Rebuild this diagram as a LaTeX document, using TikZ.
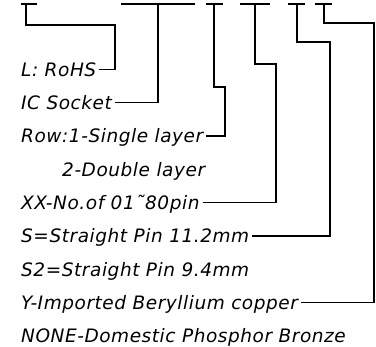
\documentclass[tikz,border=0pt]{standalone}
\usepackage{fontspec}
\setmainfont{DejaVu Sans}
\newfontfamily\cadfont{DejaVu Sans Oblique}[LetterSpace=3]
\begin{document}
\begin{tikzpicture}[x=1pt,y=-1pt,
  lbl/.style={anchor=west,inner xsep=3pt,inner ysep=0pt,text height=13.5pt,text depth=0pt,font=\cadfont\fontsize{18.5}{22}\selectfont},
  wire/.style={line width=1.2pt,line join=miter}]
\useasboundingbox (0,0) rectangle (376,347);
% top bars
\coordinate (b1l) at (21,4);  \coordinate (b1r) at (37,4);
\coordinate (b2l) at (121,4); \coordinate (b2r) at (195,4);
\coordinate (b3l) at (206,4); \coordinate (b3r) at (223,4);
\coordinate (b4l) at (240,4); \coordinate (b4r) at (270,4);
\coordinate (b5l) at (288,4); \coordinate (b5r) at (305,4);
\coordinate (b6l) at (315,4); \coordinate (b6r) at (332,4);
\foreach \i in {1,...,6} {\draw[wire] (b\i l) -- (b\i r);}
% stems and bends
\coordinate (s1) at (26,4);  \coordinate (k1) at (115,25);
\coordinate (s2) at (158,4);
\coordinate (s3) at (214,4); \coordinate (k3) at (225,87);
\coordinate (s4) at (255,4); \coordinate (k4) at (276,64);
\coordinate (s5) at (297,4); \coordinate (k5) at (330,42);
\coordinate (s6) at (324,4); \coordinate (k6) at (374,23);
% labels
\node[lbl] (rohs) at (18,69.5) {L: RoHS};
\node[lbl] (ic)   at (18,102.8) {IC Socket};
\node[lbl] (row)  at (18,136.1) {Row:1-Single layer};
\node[lbl] (dbl)  at (59,169.4) {2-Double layer};
\node[lbl] (xx)   at (18,202.7) {XX-No.of 01\char"02DC 80pin};
\node[lbl] (s)    at (18,236) {S=Straight Pin 11.2mm};
\node[lbl] (s2l)  at (18,269.3) {S2=Straight Pin 9.4mm};
\node[lbl] (y)    at (18,302.6) {Y-Imported Beryllium copper};
\node[lbl] (none) at (18,335.9) {NONE-Domestic Phosphor Bronze};
% connectors
\draw[wire] (s1) |- (k1) |- (rohs.east);
\draw[wire] (s2) |- (ic.east);
\draw[wire] (s3) |- (k3) |- (row.east);
\draw[wire] (s4) |- (k4) |- (xx.east);
\draw[wire] (s5) |- (k5) |- (s.east);
\draw[wire] (s6) |- (k6) |- (y.east);
\end{tikzpicture}
\end{document}
